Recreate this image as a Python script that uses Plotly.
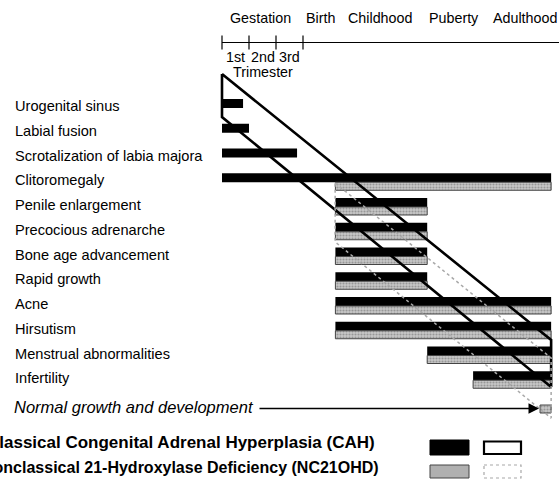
import plotly.graph_objects as go

# ---------------- data ----------------
# x scale: stage units (0 = conception, 1 unit = one trimester, 3 = birth)
ROWS = ["Urogenital sinus", "Labial fusion", "Scrotalization of labia majora",
        "Clitoromegaly", "Penile enlargement", "Precocious adrenarche",
        "Bone age advancement", "Rapid growth", "Acne", "Hirsutism",
        "Menstrual abnormalities", "Infertility"]
NORMAL_LABEL = "Normal growth and development"

CAH_START = [0, 0, 0, 0, 4.2, 4.2, 4.2, 4.2, 4.2, 4.2, 7.6, 9.3]
CAH_END   = [0.78, 1.0, 2.78, 12.19, 7.6, 7.6, 7.6, 7.6, 12.19, 12.19, 12.19, 12.19]
NC_ROWS   = [3, 4, 5, 6, 7, 8, 9, 10, 11, 12]
NC_START  = [4.2, 4.2, 4.2, 4.2, 4.2, 4.2, 4.2, 7.6, 9.3, 11.78]
NC_END    = [12.19, 7.6, 7.6, 7.6, 7.6, 12.19, 12.19, 12.19, 12.19, 12.19]

PHASES   = ["Gestation", "Birth", "Childhood", "Puberty", "Adulthood"]
PHASE_X  = [1.41, 3.63, 5.85, 8.59, 11.22]
TRIM_TICKS = [0, 1, 2, 3]
TRIM_LABELS = ["1st", "2nd", "3rd"]

# envelopes (stage, row)
CAH_ENV_X = [0, 12.19, 12.19, 0, 0]
CAH_ENV_Y = [-1.374, 9.37, 11.27, 0.364, -1.374]
NC_ENV_X = [4.19, 12.19, 12.19, 4.19, 4.19]
NC_ENV_Y = [3.03, 10.1, 12.53, 5.41, 3.03]

LEGEND_CAH = "Classical Congenital Adrenal Hyperplasia (CAH)"
LEGEND_NC = "Nonclassical 21-Hydroxylase Deficiency (NC21OHD)"

# ---------------- figure ----------------
FONT = "Liberation Sans, Arial, Helvetica, sans-serif"
W, H = 559, 481
PX_X = 27.0       # pixels per stage unit
PX_Y = 24.75      # pixels per row
X0 = 222          # pixel of stage 0
Y0 = 108          # pixel of row 0 boundary

def py(p):   # pixel y -> row units
    return (p - Y0) / PX_Y

def px(p):   # pixel x -> stage units
    return (p - X0) / PX_X

GREY_PATTERN = dict(shape=".", bgcolor="#c8c8c8", fgcolor="#666666", size=3, solidity=0.4)

fig = go.Figure()

rows_idx = list(range(len(ROWS)))
fig.add_trace(go.Bar(
    orientation="h", y=rows_idx,
    x=[e - s for s, e in zip(CAH_START, CAH_END)], base=CAH_START,
    width=9 / PX_Y, offset=-9 / PX_Y,
    marker=dict(color="black", line=dict(width=0)),
    hoverinfo="skip", showlegend=False))

fig.add_trace(go.Bar(
    orientation="h", y=NC_ROWS,
    x=[e - s for s, e in zip(NC_START, NC_END)], base=NC_START,
    width=8 / PX_Y, offset=0,
    marker=dict(color="#b0b0b0", pattern=GREY_PATTERN,
                line=dict(color="#444444", width=1)),
    hoverinfo="skip", showlegend=False))

# envelopes
fig.add_trace(go.Scatter(x=CAH_ENV_X, y=CAH_ENV_Y, mode="lines",
                         line=dict(color="black", width=2.6),
                         hoverinfo="skip", showlegend=False))
fig.add_trace(go.Scatter(x=NC_ENV_X, y=NC_ENV_Y, mode="lines",
                         line=dict(color="#a8a8a8", width=1.5, dash="dot"),
                         hoverinfo="skip", showlegend=False))

shapes = []
# timeline axis
shapes.append(dict(type="line", xref="x", yref="y", x0=0, x1=px(W), y0=py(42.5), y1=py(42.5),
                   line=dict(color="black", width=1.2)))
for t in TRIM_TICKS:
    shapes.append(dict(type="line", xref="x", yref="y", x0=t, x1=t, y0=py(35.5), y1=py(49.5),
                       line=dict(color="black", width=1.2)))

# legend swatches
shapes.append(dict(type="rect", xref="x", yref="y", x0=px(430), x1=px(469), y0=py(440), y1=py(455),
                   fillcolor="black", line=dict(color="black", width=1)))
shapes.append(dict(type="rect", xref="x", yref="y", x0=px(484), x1=px(521), y0=py(441.5), y1=py(454),
                   fillcolor="white", line=dict(color="black", width=2.2)))
shapes.append(dict(type="rect", xref="x", yref="y", x0=px(430), x1=px(469), y0=py(465), y1=py(478),
                   fillcolor="#b0b0b0", line=dict(color="#444444", width=1)))
shapes.append(dict(type="rect", xref="x", yref="y", x0=px(484), x1=px(521), y0=py(465), y1=py(478),
                   fillcolor="white", line=dict(color="#a8a8a8", width=1.2, dash="dot")))

ann = []
for name, xv in zip(PHASES, PHASE_X):
    ann.append(dict(x=xv, y=py(18), xref="x", yref="y", text=name, showarrow=False,
                    font=dict(family=FONT, size=14.3, color="black")))
for i, lab in enumerate(TRIM_LABELS):
    ann.append(dict(x=TRIM_TICKS[i] + 0.5, y=py(56.5), xref="x", yref="y", text=lab, showarrow=False,
                    font=dict(family=FONT, size=14.3, color="black")))
ann.append(dict(x=1.52, y=py(71.5), xref="x", yref="y", text="Trimester", showarrow=False,
                font=dict(family=FONT, size=14.3, color="black")))

for i, lab in enumerate(ROWS):
    ann.append(dict(x=13 / W, y=i - 0.08, xref="paper", yref="y", text=lab, showarrow=False,
                    xanchor="left", font=dict(family=FONT, size=14.6, color="black")))

ann.append(dict(x=12 / W, y=py(406.5), xref="paper", yref="y", text="<i>" + NORMAL_LABEL + "</i>",
                showarrow=False, xanchor="left", font=dict(family=FONT, size=16.5, color="black")))
# arrow
ann.append(dict(x=px(539), y=py(408.5), ax=px(258), ay=py(408.5), xref="x", yref="y",
                axref="x", ayref="y", text="", showarrow=True, arrowhead=2, arrowsize=1.5,
                arrowwidth=1.4, arrowcolor="black", standoff=0))

ann.append(dict(x=377 / W, y=py(442.5), xref="paper", yref="y", text="<b>" + LEGEND_CAH + "</b>",
                showarrow=False, xanchor="right", font=dict(family=FONT, size=17, color="black")))
ann.append(dict(x=381 / W, y=py(467), xref="paper", yref="y", text="<b>" + LEGEND_NC + "</b>",
                showarrow=False, xanchor="right", font=dict(family=FONT, size=16, color="black")))

fig.update_layout(
    width=W, height=H,
    margin=dict(l=0, r=0, t=0, b=0),
    paper_bgcolor="white", plot_bgcolor="white",
    barmode="overlay",
    xaxis=dict(range=[px(0), px(W)], visible=False, fixedrange=True),
    yaxis=dict(range=[py(H), py(0)], visible=False, fixedrange=True),
    shapes=shapes, annotations=ann,
    showlegend=False,
)

fig.write_html("out.html", config={"displayModeBar": False},
               post_script="document.body.style.margin='0';document.body.style.overflow='hidden';")
